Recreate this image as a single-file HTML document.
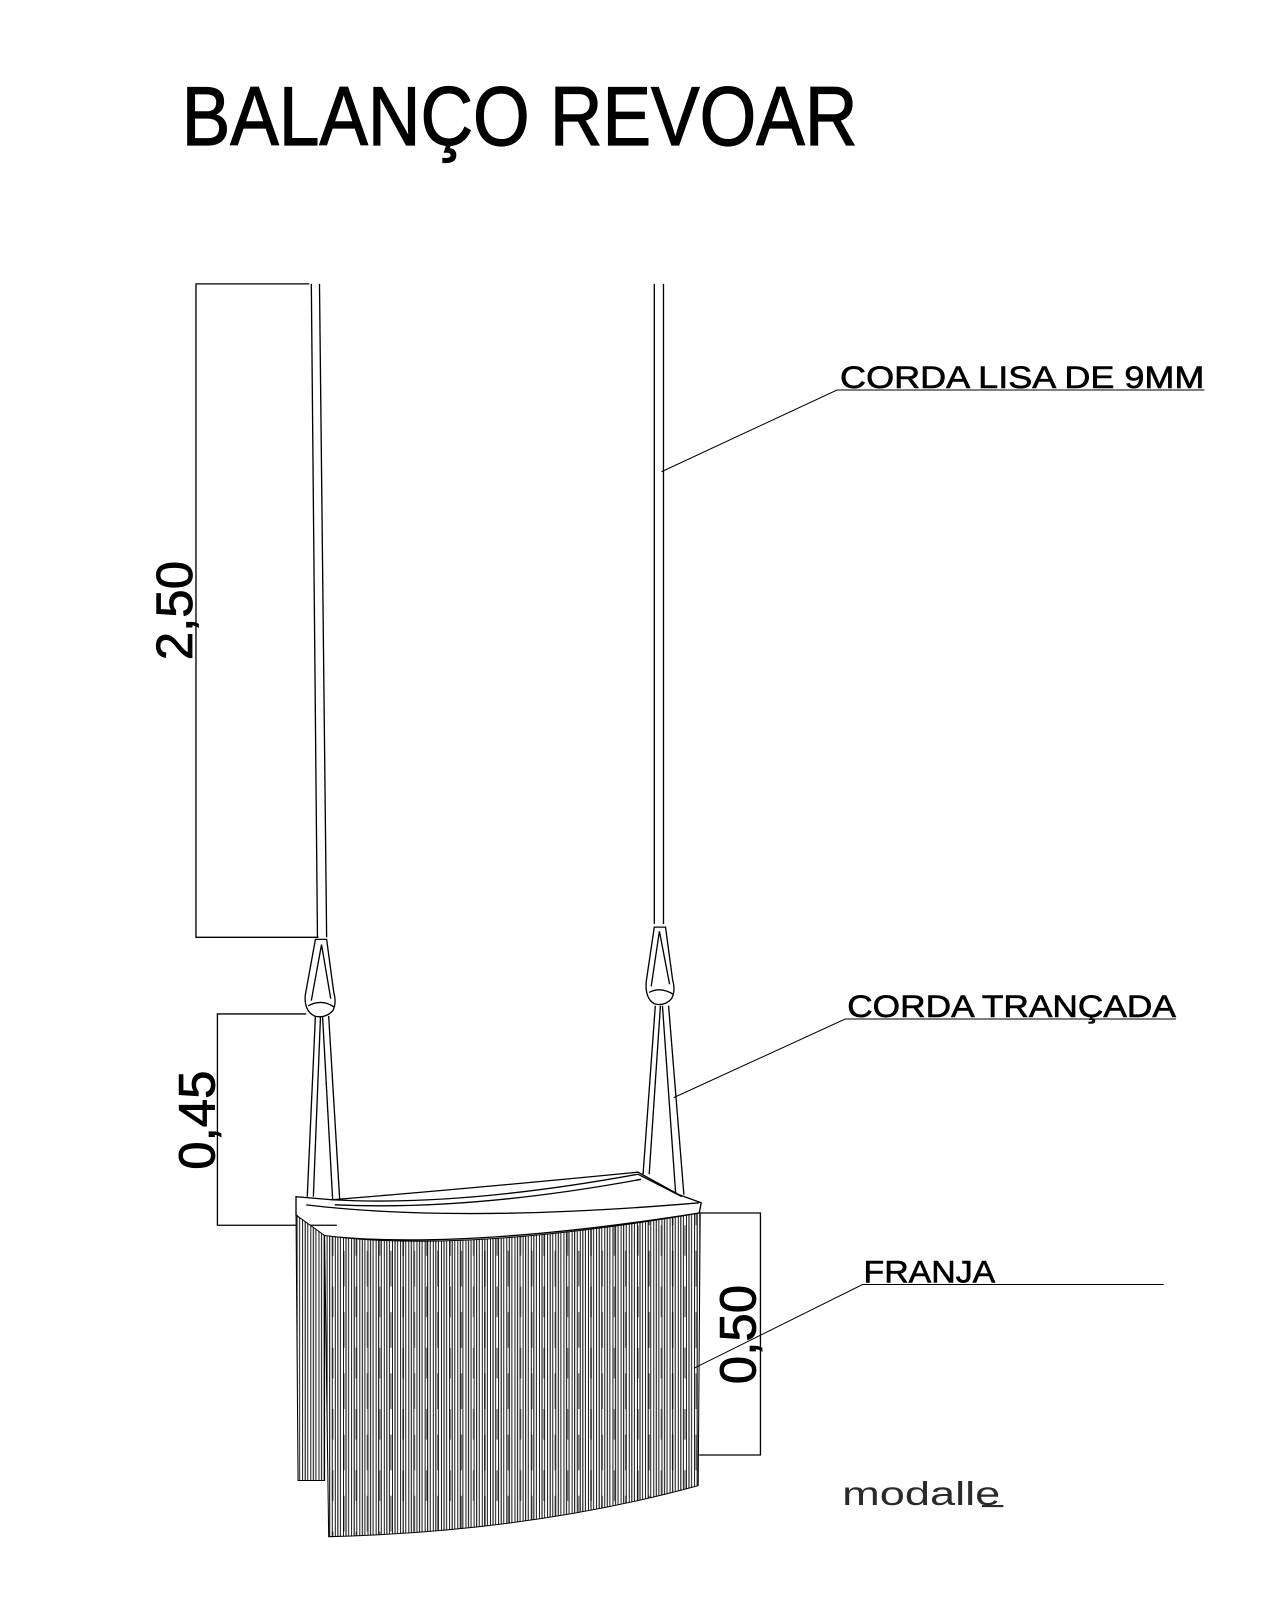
<!DOCTYPE html>
<html><head><meta charset="utf-8"><style>
html,body{margin:0;padding:0;background:#fff;width:1280px;height:1600px;overflow:hidden}
svg{display:block}
text{font-family:"Liberation Sans",sans-serif;fill:#000}
</style></head><body>
<svg width="1280" height="1600" viewBox="0 0 1254 1567" preserveAspectRatio="none" xmlns="http://www.w3.org/2000/svg">
<defs>
<pattern id="fr" width="8" height="40" patternUnits="userSpaceOnUse">
<rect width="8" height="40" fill="#fff"/>
<line x1="0.5" y1="0" x2="0.5" y2="40" stroke="#000" stroke-width="0.9"/>
<line x1="3" y1="0" x2="3" y2="40" stroke="#000" stroke-width="1"/>
<line x1="5.5" y1="0" x2="5.5" y2="40" stroke="#000" stroke-width="0.9"/>
</pattern>
<pattern id="fr2" width="23" height="60" patternUnits="userSpaceOnUse">
<line x1="4" y1="0" x2="4" y2="30" stroke="#000" stroke-width="1.6"/>
<line x1="15" y1="25" x2="15" y2="60" stroke="#000" stroke-width="1.6"/>
</pattern>
</defs>
<text x="178" y="142" font-size="82" textLength="662" lengthAdjust="spacingAndGlyphs" stroke="#000" stroke-width="1.2">BALANÇO REVOAR</text>

<g fill="none" stroke="#000" stroke-width="1.3">
<polyline points="303,278 192,278 192,918 312,918"/>
<line x1="305" y1="278" x2="311" y2="918"/><line x1="313" y1="278" x2="320" y2="918"/>
<line x1="641" y1="278" x2="641" y2="905"/><line x1="650" y1="278" x2="650" y2="905"/>
<path d="M309,920 L299,975 Q298,990 308,995 Q318,998 326,990 Q330,982 327,972 L320,920 Z"/>
<path d="M315,925 L305,980 M315,925 L324,978 M302,985 Q315,978 327,986"/>
<path d="M641,908 L633,962 Q632,978 641,983 Q651,986 658,978 Q662,970 659,960 L652,908 Z"/>
<path d="M646,912 L638,966 M646,912 L656,964 M636,972 Q647,966 660,974"/>
<line x1="309" y1="995" x2="301" y2="1172"/><line x1="314" y1="995" x2="307" y2="1172"/>
<line x1="316" y1="995" x2="327" y2="1195"/><line x1="322" y1="995" x2="334" y2="1195"/>
<line x1="642" y1="985" x2="630" y2="1150"/><line x1="647" y1="985" x2="636" y2="1150"/>
<line x1="649" y1="985" x2="662" y2="1170"/><line x1="655" y1="985" x2="670" y2="1170"/>
<path d="M290,1172 L290,1190 L315,1210 Q450,1225 685,1188 L687,1178 L665,1170 L625,1148 Q450,1165 325,1175 Z" fill="#fff"/>
<path d="M300,1180 Q450,1198 685,1178"/>
<path d="M325,1175 Q450,1182 625,1150"/>
<path d="M328,1180 Q460,1186 628,1155"/>
<line x1="625" y1="1150" x2="668" y2="1172"/>
<polyline points="300,993 213,993 213,1200 330,1200"/>
<polyline points="685,1188 745,1188 745,1425 685,1425"/>
</g>

<path d="M290,1190 L318,1210 L318,1450 L292,1450 Z" fill="url(#fr)" stroke="#000" stroke-width="1"/>
<path d="M318,1210 Q450,1228 686,1188 L684,1455 Q520,1500 322,1505 Z" fill="url(#fr)" stroke="#000" stroke-width="1"/>
<path d="M318,1210 Q450,1228 686,1188 L684,1455 Q520,1500 322,1505 Z" fill="url(#fr2)" opacity="0.5"/>

<g fill="none" stroke="#000" stroke-width="1">
<polyline points="648,462 820,382 1180,382"/>
<polyline points="660,1075 828,998 1152,998"/>
<polyline points="680,1340 845,1258 1140,1258"/>
</g>
<text x="823" y="380" font-size="31" textLength="357" lengthAdjust="spacingAndGlyphs" stroke="#000" stroke-width="0.6">CORDA LISA DE 9MM</text>
<text x="830" y="996" font-size="31" textLength="322" lengthAdjust="spacingAndGlyphs" stroke="#000" stroke-width="0.6">CORDA TRANÇADA</text>
<text x="846" y="1256" font-size="31" textLength="129" lengthAdjust="spacingAndGlyphs" stroke="#000" stroke-width="0.6">FRANJA</text>

<text transform="translate(188,598) rotate(-90)" font-size="50" text-anchor="middle" stroke="#000" stroke-width="0.8">2,50</text>
<text transform="translate(210,1097) rotate(-90)" font-size="50" text-anchor="middle" stroke="#000" stroke-width="0.8">0,45</text>
<text transform="translate(740,1307) rotate(-90)" font-size="50" text-anchor="middle" stroke="#000" stroke-width="0.8">0,50</text>

<text x="825" y="1474" font-size="33" textLength="155" lengthAdjust="spacingAndGlyphs" style="fill:#2a2a2a">modalle</text>
<line x1="962" y1="1475" x2="983" y2="1475" stroke="#2a2a2a" stroke-width="2"/>
</svg>
</body></html>
